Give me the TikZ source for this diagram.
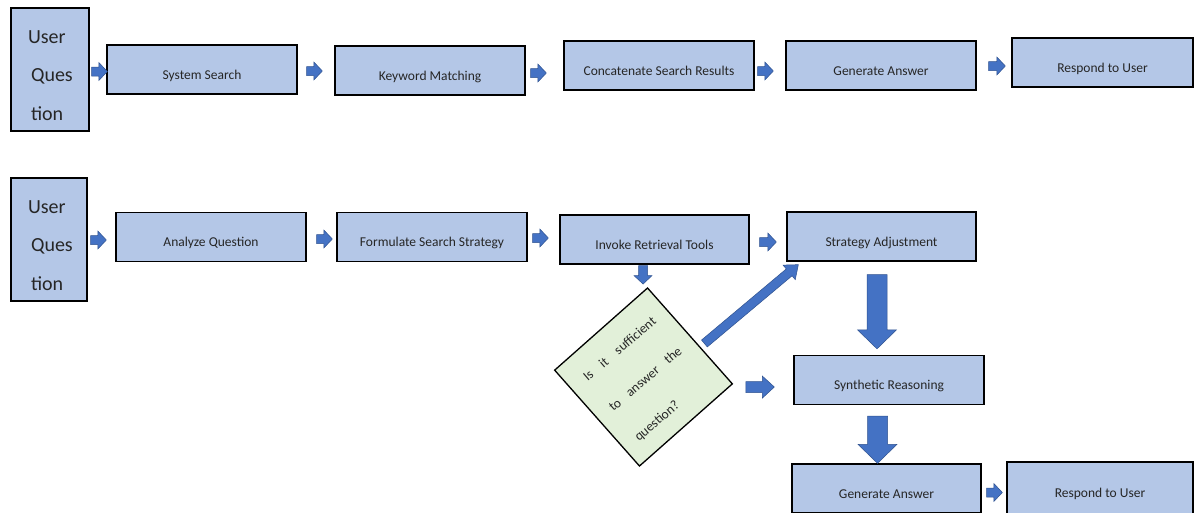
\documentclass[tikz,border=0pt]{standalone}
\usepackage{fontspec}
\setmainfont{Carlito}
\usetikzlibrary{calc}

\definecolor{boxfill}{HTML}{B4C7E7}
\definecolor{decfill}{HTML}{E2F0D9}
\definecolor{arrowfill}{HTML}{4472C4}
\definecolor{arrowline}{HTML}{2F528F}
\definecolor{ink}{HTML}{262626}

\tikzset{
  stepbox/.style={draw=black, line width=1.3pt, fill=boxfill,
    minimum width=190pt, minimum height=49pt, inner sep=0pt,
    text height=19.5pt, text depth=0pt, text=ink,
    font=\fontsize{13.5}{16}\selectfont},
  askbox/.style={draw=black, line width=1.3pt, fill=boxfill,
    minimum width=78pt, minimum height=123pt, inner sep=0pt},
  asktext/.style={anchor=base west, inner sep=0pt, text=ink,
    font=\fontsize{20}{24}\selectfont},
  decbox/.style={draw=black, line width=1.3pt, fill=decfill, inner sep=0pt},
  dectext/.style={anchor=center, inner sep=0pt, text=ink, align=left,
    font=\fontsize{13.5}{39.5}\selectfont},
  blockarrow/.style={fill=arrowfill, draw=arrowline, line width=0.5pt,
    line join=miter},
}

% block arrow: start, tip, half shaft width, half head width, head length
\newcommand\blockarrow[5]{%
  \coordinate (ba-s) at (#1);
  \coordinate (ba-t) at (#2);
  \coordinate (ba-h) at ($(ba-t)!#5!(ba-s)$);
  \filldraw[blockarrow]
    ($(ba-s)!#3!90:(ba-t)$) -- ($(ba-h)!#3!90:(ba-t)$) --
    ($(ba-h)!#4!90:(ba-t)$) -- (ba-t) --
    ($(ba-h)!#4!-90:(ba-t)$) -- ($(ba-h)!#3!-90:(ba-t)$) --
    ($(ba-s)!#3!-90:(ba-t)$) -- cycle;
}
\newcommand\smallarrow[2]{\blockarrow{#1}{#2}{4.5pt}{9pt}{8.5pt}}

\begin{document}
\begin{tikzpicture}[x=1pt, y=-1pt]
\useasboundingbox (0,0) rectangle (1195,512);
\fill[white] (0,0) rectangle (1195,512);
\clip (0,0) rectangle (1195,512);

% ---------- plain retrieval pipeline ----------
\node[askbox] (uq1) at (50,69.5) {};
\node[asktext] (uq1a) at ($(uq1.north west)+(17.5,36)$) {User};
\node[asktext] (uq1b) at ($(uq1.north west)+(20.5,74.3)$) {Ques};
\node[asktext] (uq1c) at ($(uq1.north west)+(20.5,112.7)$) {tion};

\node[stepbox] (ss)  at (202,69.5)  {System Search};
\node[stepbox] (km)  at (430,70.5)  {Keyword Matching};
\node[stepbox] (csr) at (659,65.5)  {Concatenate Search Results};
\node[stepbox] (ga1) at (881,65.5)  {Generate Answer};
\node[stepbox, minimum width=181pt] (ru1) at (1102.5,62.5) {Respond to User};

\smallarrow{$(uq1.east)+(2,2)$}{$(ss.west)+(1,2)$}
\smallarrow{$(ss.east)+(9,1.5)$}{$(km.west)+(-12,0.5)$}
\smallarrow{$(km.east)+(5,2.5)$}{$(csr.west)+(-17,7.5)$}
\smallarrow{$(csr.east)+(3,5.5)$}{$(ga1.west)+(-12,5.5)$}
\smallarrow{$(ga1.east)+(12,0.5)$}{$(ru1.west)+(-6,3.5)$}

% ---------- agentic retrieval pipeline ----------
\node[askbox, minimum width=76pt] (uq2) at (49,239.5) {};
\node[asktext] (uq2a) at ($(uq2.north west)+(17.5,36)$) {User};
\node[asktext] (uq2b) at ($(uq2.north west)+(20.5,74.3)$) {Ques};
\node[asktext] (uq2c) at ($(uq2.north west)+(20.5,112.7)$) {tion};

\node[stepbox] (aq)  at (211,237)   {Analyze Question};
\node[stepbox] (fss) at (432,237)   {Formulate Search Strategy};
\node[stepbox, minimum width=189pt] (irt) at (654.5,239.5) {Invoke Retrieval Tools};
\node[stepbox, minimum width=189pt] (sa)  at (881.5,236.5) {Strategy Adjustment};
\node[stepbox] (sr)  at (889,380)   {Synthetic Reasoning};
\node[stepbox, minimum width=189pt] (ga2) at (886.5,488.5) {Generate Answer};
\node[stepbox, minimum width=186pt, minimum height=54pt, text height=17pt]
  (ru2) at (1100,489) {Respond to User};

% decision square, turned on its corner
\node[decbox, rotate=41.5, minimum width=124pt, minimum height=128pt]
  (dec) at (643.5,377) {};
\begin{scope}[shift={(dec.center)}, rotate=40.5, transform shape]
  \node[dectext] (dq) at (0,3.4)
    {\makebox[91pt][s]{Is it sufficient}\\
     \makebox[91pt][s]{to answer the}\\
     question?};
\end{scope}

\smallarrow{$(uq2.east)+(3,0.5)$}{$(aq.west)+(-9,3)$}
\smallarrow{$(aq.east)+(10,2)$}{$(fss.west)+(-4,2)$}
\smallarrow{$(fss.east)+(5,1)$}{$(irt.west)+(-11,-1.5)$}
\smallarrow{$(irt.east)+(10,2.5)$}{$(sa.west)+(-10,5.5)$}
\smallarrow{$(irt.south)+(-11.5,1)$}{$(dec.north east)+(-4.5,-3)$}
\smallarrow{$(ga2.east)+(5,4)$}{$(ru2.west)+(-4,3.5)$}

\blockarrow{$(dec.east)+(14,8)$}{$(sa.south west)+(12,3)$}{4.5pt}{9.5pt}{12pt}
\blockarrow{$(dec.south east)+(12.7,3.2)$}{$(sr.west)+(-19,7)$}{5.5pt}{11pt}{12pt}
\blockarrow{$(sa.south)+(-4.5,13)$}{$(sr.north)+(-12,-6)$}{10pt}{19.5pt}{19pt}
\blockarrow{$(sr.south)+(-11.5,11)$}{$(ga2.north)+(-9,0)$}{10pt}{19.5pt}{19pt}
\end{tikzpicture}
\end{document}
